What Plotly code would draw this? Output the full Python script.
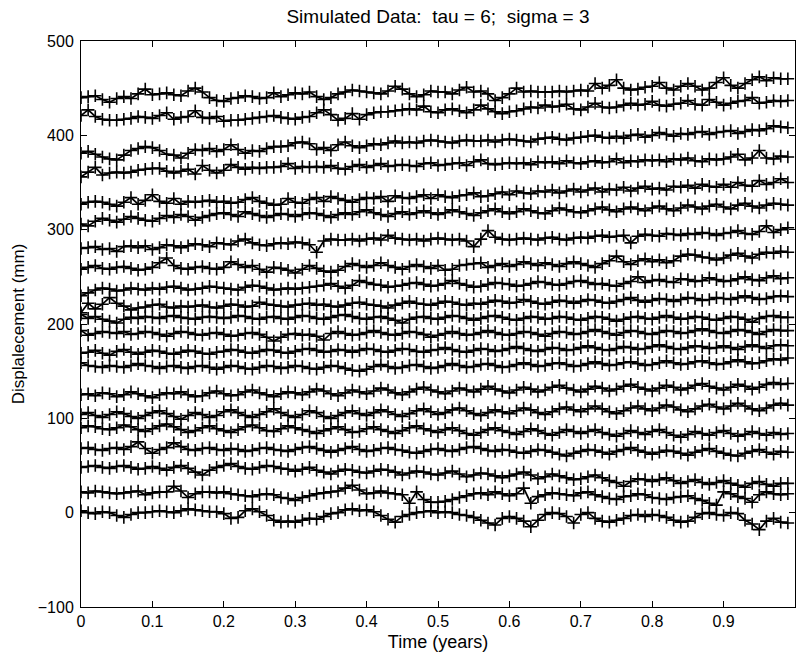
import plotly.graph_objects as go

# time axis (years)
time_years = [0.00, 0.01, 0.02, 0.03, 0.04, 0.05, 0.06, 0.07, 0.08, 0.09,
              0.10, 0.11, 0.12, 0.13, 0.14, 0.15, 0.16, 0.17, 0.18, 0.19,
              0.20, 0.21, 0.22, 0.23, 0.24, 0.25, 0.26, 0.27, 0.28, 0.29,
              0.30, 0.31, 0.32, 0.33, 0.34, 0.35, 0.36, 0.37, 0.38, 0.39,
              0.40, 0.41, 0.42, 0.43, 0.44, 0.45, 0.46, 0.47, 0.48, 0.49,
              0.50, 0.51, 0.52, 0.53, 0.54, 0.55, 0.56, 0.57, 0.58, 0.59,
              0.60, 0.61, 0.62, 0.63, 0.64, 0.65, 0.66, 0.67, 0.68, 0.69,
              0.70, 0.71, 0.72, 0.73, 0.74, 0.75, 0.76, 0.77, 0.78, 0.79,
              0.80, 0.81, 0.82, 0.83, 0.84, 0.85, 0.86, 0.87, 0.88, 0.89,
              0.90, 0.91, 0.92, 0.93, 0.94, 0.95, 0.96, 0.97, 0.98, 0.99]

s01 = [440,441,442,438,435,439,441,439,444,449, 443,444,445,443,442,447,450,446,440,437,
       436,439,440,442,441,439,440,445,441,443, 445,444,446,441,438,440,444,446,448,447,
       446,445,444,447,452,449,444,441,443,447, 446,446,444,448,451,446,447,444,437,440,
       444,450,446,447,446,446,446,447,446,447, 448,447,455,450,453,459,450,448,449,451,
       452,456,450,448,452,455,452,448,450,456, 461,453,450,455,459,462,458,461,460,460]
s02 = [421,427,420,417,416,416,417,418,420,419, 418,421,424,417,419,420,426,419,418,420,
       415,416,416,417,418,419,420,421,419,418, 417,419,420,424,427,422,416,418,423,417,
       422,424,425,425,426,427,428,427,431,425, 424,427,428,426,424,427,432,428,425,423,
       425,426,428,430,429,432,430,431,433,428, 427,430,434,430,429,430,432,434,432,433,
       436,432,431,433,434,437,433,432,438,435, 432,434,436,437,440,434,435,437,436,437]
s03 = [381,383,380,377,375,374,379,384,386,388, 387,384,380,379,376,381,385,384,386,383,
       385,390,385,381,384,383,386,388,388,389, 392,393,391,385,387,384,390,393,389,387,
       389,391,390,392,394,392,393,392,394,395, 394,393,392,394,395,394,394,395,393,395,
       396,395,394,393,396,397,398,396,395,397, 398,399,400,398,397,399,397,400,401,398,
       400,403,401,399,402,401,403,404,401,403, 404,405,402,404,406,405,407,410,409,408]
s04 = [356,361,366,358,360,361,360,361,363,364, 365,365,362,360,362,364,359,368,363,360,
       363,369,366,364,366,365,366,366,367,370, 365,367,366,367,366,368,365,364,367,369,
       366,368,370,367,368,369,368,367,370,371, 368,369,370,371,368,372,374,370,369,370,
       371,370,371,369,372,371,372,370,373,371, 370,372,373,371,372,375,371,373,372,374,
       373,374,372,375,374,376,373,372,375,374, 375,377,380,374,376,384,376,375,378,377]
s05 = [327,329,330,329,327,325,329,334,327,331, 337,330,328,333,327,330,329,330,331,329,
       330,328,329,332,334,330,328,326,327,333, 329,328,332,334,330,335,333,331,329,332,
       334,333,335,330,336,334,333,335,337,333, 337,335,334,336,337,339,335,336,338,340,
       337,341,339,338,341,340,342,339,341,343, 340,342,344,340,343,342,345,341,344,346,
       343,344,342,346,345,347,344,348,346,345, 348,345,350,347,346,352,348,350,354,350]
s06 = [306,304,309,312,310,308,311,314,312,310, 309,312,315,313,316,314,310,313,315,317,
       318,316,314,319,317,315,313,315,317,316, 314,316,318,317,315,313,316,318,316,319,
       321,318,316,314,317,319,316,318,320,318, 316,318,321,319,317,315,318,320,322,319,
       317,319,322,320,318,317,320,323,321,319, 318,320,322,324,321,319,322,324,322,320,
       323,325,322,320,323,326,324,322,325,327, 324,322,326,328,325,323,326,328,327,326]
s07 = [280,281,282,279,280,277,282,283,281,283, 279,281,284,283,281,283,285,284,282,286,
       285,284,288,290,286,284,283,285,286,285, 287,286,284,276,288,290,289,289,290,288,
       290,291,289,294,291,290,289,290,288,290, 291,290,289,290,288,282,290,299,292,290,
       289,290,291,290,289,291,292,290,289,291, 292,291,293,294,292,293,294,286,293,295,
       294,293,296,295,294,296,295,297,296,294, 296,297,299,296,295,298,304,297,300,302]
s08 = [258,260,262,259,258,260,261,259,257,258, 260,265,270,262,259,258,260,261,259,258,
       260,266,263,260,262,258,255,260,259,257, 254,258,262,259,256,255,257,261,264,262,
       260,262,265,262,260,258,261,263,261,259, 262,257,258,262,263,264,265,260,262,264,
       261,263,266,264,262,265,263,261,264,266, 264,262,260,264,267,272,266,263,267,269,
       266,268,265,267,272,274,273,271,270,268, 270,273,275,272,270,274,276,275,277,276]
s09 = [230,233,236,238,237,235,236,238,237,236, 238,237,239,240,238,236,237,238,240,239,
       238,237,236,239,241,240,238,236,237,238, 237,238,239,240,241,243,240,238,241,246,
       244,242,241,239,240,241,243,244,242,240, 241,243,246,243,241,239,240,242,244,243,
       242,240,241,243,245,244,242,241,243,245, 246,244,242,243,241,240,243,245,250,244,
       246,247,245,244,248,247,245,246,249,247, 245,246,248,250,247,246,249,251,248,249]
s10 = [212,222,216,221,228,222,219,215,217,218, 220,221,218,217,219,218,219,220,218,217,
       219,221,220,218,219,223,221,220,219,218, 220,221,222,220,221,219,218,220,222,223,
       221,220,219,217,220,222,224,222,221,220, 222,224,223,221,220,222,221,223,225,224,
       222,223,226,224,222,221,223,225,224,222, 224,226,225,223,222,224,226,228,225,223,
       225,227,226,224,226,228,227,225,226,228, 227,226,228,230,228,226,227,229,230,229]
s11 = [210,206,208,205,203,201,205,207,206,208, 207,206,208,209,207,206,205,207,208,207,
       206,207,209,208,206,205,207,208,206,205, 207,209,208,206,205,207,209,210,208,206,
       205,207,208,206,204,201,205,207,208,206, 205,207,209,208,206,204,206,208,209,207,
       205,204,206,208,207,205,206,208,207,205, 204,206,208,207,205,203,205,207,208,206,
       205,207,209,207,205,206,208,207,205,204, 206,208,207,205,202,206,208,209,207,207]
s12 = [193,188,190,192,191,190,192,189,190,192, 191,189,187,190,192,191,189,188,190,191,
       189,187,188,190,191,189,186,182,186,189, 190,188,189,187,183,190,192,190,188,189,
       191,193,191,189,188,190,192,191,189,186, 188,190,192,190,188,189,191,193,191,189,
       188,190,192,191,189,187,190,192,191,189, 190,192,194,192,190,188,191,193,192,190,
       189,191,193,192,190,191,193,195,193,191, 190,192,194,193,191,189,192,194,193,193]
s13 = [169,170,172,169,167,171,173,170,168,170, 172,171,169,168,170,172,171,169,168,170,
       171,173,172,170,169,171,173,172,170,169, 171,173,174,172,170,171,173,172,170,172,
       174,173,171,170,172,174,173,171,170,172, 173,175,173,171,170,172,174,173,171,172,
       174,176,174,172,171,173,175,174,172,173, 175,177,175,173,172,174,176,175,173,174,
       176,178,176,174,173,175,177,176,174,175, 177,175,173,176,178,176,174,177,178,177]
s14 = [159,156,155,154,156,155,154,156,158,156, 155,153,155,156,154,153,155,156,154,152,
       154,156,155,153,152,154,156,155,153,154, 156,155,153,152,154,156,155,153,151,150,
       152,155,157,155,153,154,156,157,155,153, 154,156,158,156,154,155,157,158,156,154,
       155,157,159,157,155,156,158,159,157,155, 156,158,160,158,156,157,159,160,158,156,
       157,159,161,159,157,158,160,161,159,157, 158,160,162,160,158,159,161,163,162,164]
s15 = [125,126,124,127,126,123,125,128,126,124, 122,125,127,126,128,125,123,124,127,129,
       126,124,125,128,130,127,125,123,126,128, 127,125,128,131,129,126,124,127,130,128,
       126,129,132,130,127,125,128,131,133,130, 128,126,129,132,130,128,131,134,131,129,
       127,130,133,131,128,130,133,135,132,130, 128,131,134,132,129,131,134,136,133,131,
       129,132,135,133,130,132,135,137,134,132, 130,133,136,134,131,133,136,138,136,137]
s16 = [104,106,103,101,104,107,105,102,100,103, 106,108,105,102,99,103,106,104,101,103,
       107,109,106,103,101,104,107,110,106,103, 101,104,108,106,102,100,103,106,108,105,
       103,106,109,107,104,102,105,108,110,107, 104,106,109,111,108,105,103,106,109,107,
       105,108,111,109,106,104,107,110,112,109, 107,110,113,110,107,105,108,111,113,110,
       108,111,114,112,109,107,110,113,115,112, 110,113,116,113,110,108,111,114,116,114]
s17 = [90,92,91,89,88,90,93,91,88,86, 89,92,94,91,88,85,87,90,92,89,
       87,85,88,91,93,90,87,86,89,92, 90,88,86,84,87,89,91,88,85,86,
       89,91,88,86,84,87,90,92,89,87, 85,88,90,87,84,82,85,88,90,87,
       85,83,86,89,87,84,82,85,88,86, 84,86,88,85,83,81,84,87,85,83,
       86,88,85,82,80,83,86,84,82,85, 87,84,81,83,86,84,82,85,83,84]
s18 = [68,69,67,66,68,69,67,70,75,68, 63,67,69,74,70,67,66,68,69,67,
       66,68,67,65,66,68,69,67,66,65, 67,69,70,68,66,64,66,68,70,67,
       65,66,68,69,67,66,64,63,65,67, 68,66,65,67,69,70,68,66,65,67,
       66,64,63,65,67,66,64,62,60,63, 65,67,66,64,62,65,67,69,66,64,
       62,64,66,65,63,61,64,66,68,65, 63,61,60,63,65,67,64,62,65,64]
s19 = [48,49,50,48,47,49,50,48,46,47, 49,47,45,48,50,47,43,40,45,48,
       50,52,49,47,46,48,50,49,47,46, 44,46,48,45,43,41,44,46,45,43,
       42,44,46,45,43,40,42,44,43,41, 40,42,44,41,38,40,42,41,39,37,
       39,41,43,40,36,38,41,39,37,35, 36,38,40,37,34,32,28,33,36,35,
       33,35,37,34,31,33,35,32,30,32, 34,31,29,27,31,33,30,28,31,31]
s20 = [22,21,23,22,21,20,21,22,23,19, 21,22,22,28,23,16,20,22,22,21,
       22,20,19,18,17,19,20,19,16,15, 13,16,18,20,21,22,23,26,29,24,
       20,21,23,21,20,19,10,22,14,11, 11,12,14,16,18,20,21,19,22,20,
       18,20,26,10,17,19,21,20,19,18, 21,22,19,17,15,14,17,18,20,19,
       16,15,14,16,17,18,15,13,10,8, 22,20,17,15,11,19,22,20,19,20]
s21 = [2,0,-1,1,0,-3,-5,-2,0,0, 1,2,1,0,2,4,3,2,1,1,
       -1,-6,-5,2,4,1,-3,-8,-10,-9, -10,-8,-6,-7,-4,-1,0,3,4,2,
       3,1,-3,-7,-10,-4,-2,0,1,2, 0,1,0,-2,-3,-5,-8,-11,-13,-6,
       -4,-6,-9,-15,-8,-2,0,-1,-4,-11, -2,0,-6,-9,-10,-8,-6,-3,-2,-4,
       -2,-3,-5,-8,-10,-9,-5,-1,0,-2, -3,0,-1,-8,-12,-18,-9,-6,-10,-11]

series = [s01, s02, s03, s04, s05, s06, s07, s08, s09, s10, s11,
          s12, s13, s14, s15, s16, s17, s18, s19, s20, s21]

x_ticks = [0, 0.1, 0.2, 0.3, 0.4, 0.5, 0.6, 0.7, 0.8, 0.9, 1]
x_tick_labels = ["0", "0.1", "0.2", "0.3", "0.4", "0.5", "0.6", "0.7", "0.8", "0.9", "1"]
y_ticks = [-100, 0, 100, 200, 300, 400, 500]
y_tick_labels = ["\u2212100", "0", "100", "200", "300", "400", "500"]

fig = go.Figure()
for s in series:
    fig.add_trace(go.Scatter(
        x=time_years, y=s, mode="lines+markers",
        line=dict(color="black", width=1.7),
        marker=dict(symbol="cross-thin", size=9, color="black",
                    line=dict(color="black", width=1.6)),
        showlegend=False, hoverinfo="skip"))

font_family = "Liberation Sans, Arial, Helvetica, sans-serif"
axis_common = dict(showline=True, linecolor="black", linewidth=1, mirror="allticks",
                   ticks="inside", ticklen=6, tickwidth=1, tickcolor="black",
                   showgrid=False, zeroline=False, automargin=False,
                   tickfont=dict(family=font_family, size=16, color="black"))

fig.update_layout(
    width=796, height=656,
    margin=dict(l=81, r=1, t=41, b=49),
    paper_bgcolor="white", plot_bgcolor="white",
    font=dict(family=font_family, size=16, color="black"),
    title=dict(text="Simulated Data:\u00a0 tau = 6;\u00a0 sigma = 3",
               x=0.5, xref="paper", xanchor="center",
               y=1 - 16 / 656, yref="container", yanchor="middle",
               font=dict(family=font_family, size=19, color="black")),
    xaxis=dict(range=[0, 1], tickvals=x_ticks, ticktext=x_tick_labels,
               title=dict(text="Time (years)", standoff=6,
                          font=dict(family=font_family, size=18)),
               **axis_common),
    yaxis=dict(range=[-100, 500], tickvals=y_ticks, ticktext=y_tick_labels,
               ticklabelstandoff=3,
               title=dict(text="Displalecement (mm)", standoff=8,
                          font=dict(family=font_family, size=17)),
               **axis_common),
)

# remove the browser's default 8px body margin so the figure fills the window
fig.write_html("out.html", config={"displayModeBar": False, "staticPlot": True},
               post_script="document.body.style.margin='0px';")
